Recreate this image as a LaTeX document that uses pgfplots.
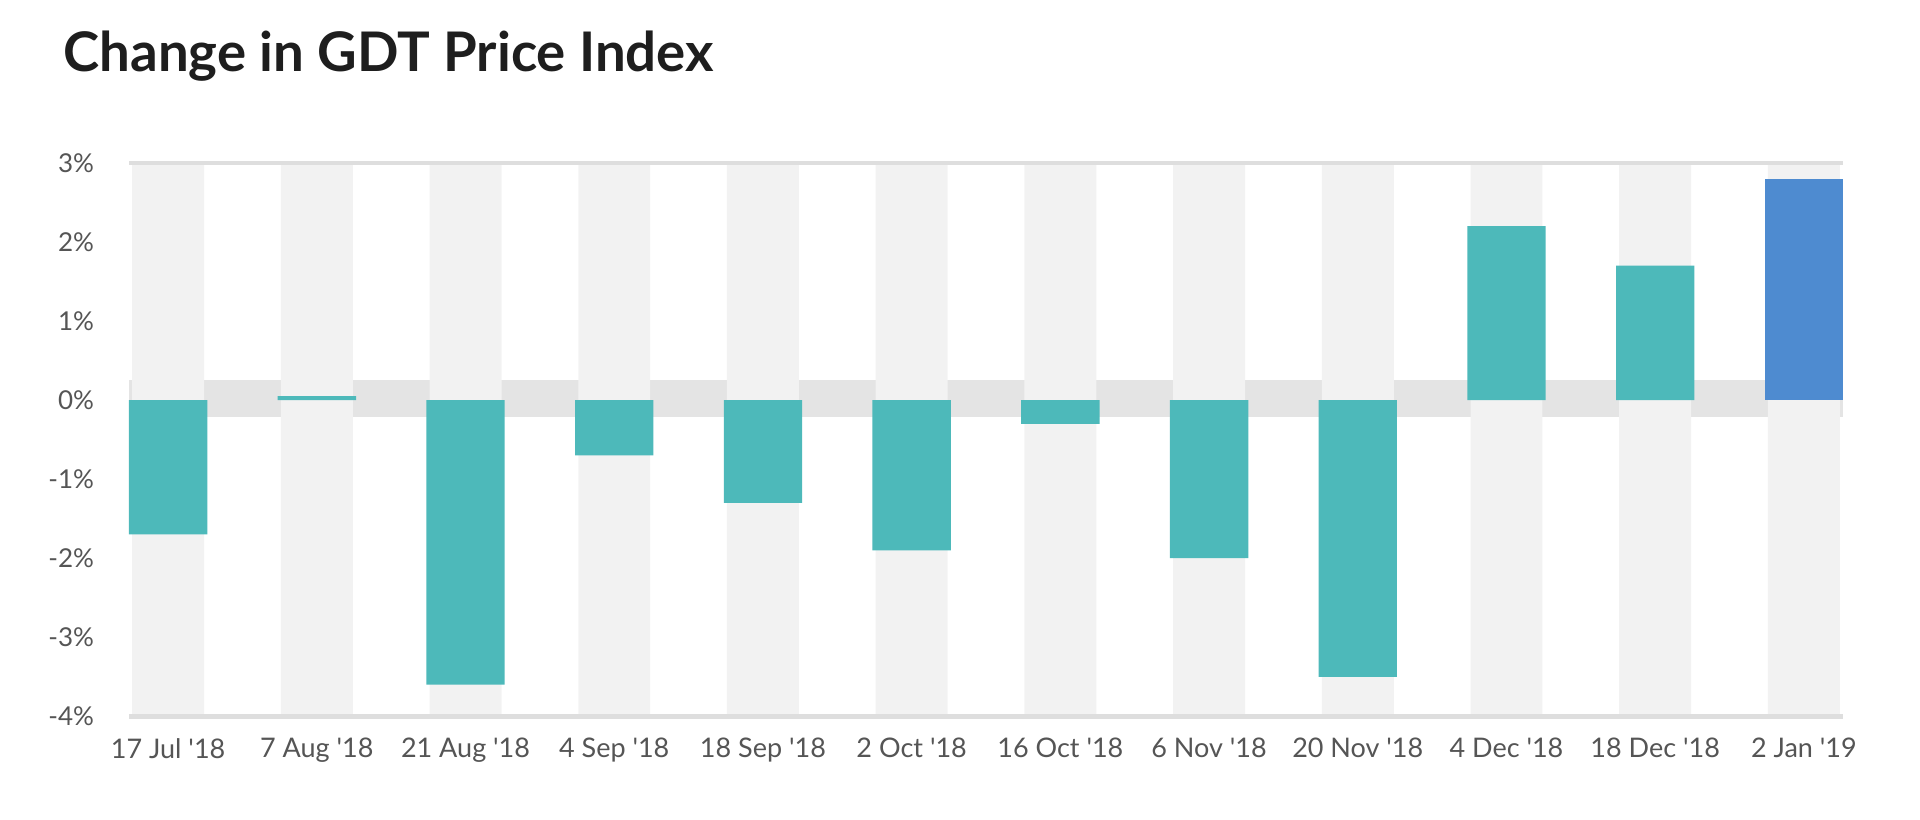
\documentclass[border=0pt]{standalone}
\usepackage{fontspec}
\setmainfont{Lato}
\usepackage{pgfplots}
\pgfplotsset{compat=1.18}
\definecolor{tealbar}{RGB}{77,185,186}
\definecolor{bluebar}{RGB}{78,139,208}
\definecolor{stripe}{RGB}{242,242,242}
\definecolor{band}{RGB}{228,228,228}
\definecolor{axisline}{RGB}{222,222,222}
\definecolor{lbl}{RGB}{85,85,85}
\definecolor{ttl}{RGB}{30,30,30}
\begin{document}
\begin{tikzpicture}
\useasboundingbox (-64.5pt,-51.35pt) rectangle (895.5pt,358.15pt);
\begin{axis}[
  at={(0,0)}, anchor=south west,
  width=857pt, height=276.7pt, scale only axis,
  xmin=-0.263, xmax=11.263, ymin=-4, ymax=3,
  axis line style={draw=none},
  tick style={draw=none},
  xtick={0,1,2,3,4,5,6,7,8,9,10,11},
  xticklabels={17 Jul \textquotesingle18, 7 Aug \textquotesingle18, 21 Aug \textquotesingle18, 4 Sep \textquotesingle18, 18 Sep \textquotesingle18, 2 Oct \textquotesingle18, 16 Oct \textquotesingle18, 6 Nov \textquotesingle18, 20 Nov \textquotesingle18, 4 Dec \textquotesingle18, 18 Dec \textquotesingle18, 2 Jan \textquotesingle19},
  ytick={-4,-3,-2,-1,0,1,2,3},
  yticklabels={-4\%,-3\%,-2\%,-1\%,0\%,1\%,2\%,3\%},
  yticklabel style={font=\fontsize{13}{15}\selectfont, text=lbl, xshift=-14pt},
  xticklabel style={font=\fontsize{13.5}{16}\selectfont, text=lbl, yshift=-7.5pt},
  clip=false,
]
% zero band
\addplot[fill=band, draw=none] coordinates {(-0.263,-0.22) (11.263,-0.22) (11.263,0.26) (-0.263,0.26)} -- cycle;
% stripes
\addplot[ybar, bar width=0.484, fill=stripe, draw=none] coordinates {(0,3)(1,3)(2,3)(3,3)(4,3)(5,3)(6,3)(7,3)(8,3)(9,3)(10,3)(11,3)};
\addplot[ybar, bar width=0.484, fill=stripe, draw=none] coordinates {(0,-4)(1,-4)(2,-4)(3,-4)(4,-4)(5,-4)(6,-4)(7,-4)(8,-4)(9,-4)(10,-4)(11,-4)};
% frame lines
\addplot[axisline, line width=2pt] coordinates {(-0.263,3) (11.263,3)};
\addplot[axisline, line width=2.2pt] coordinates {(-0.263,-4) (11.263,-4)};
% data
\addplot[ybar, bar width=0.527, fill=tealbar, draw=none] coordinates {
 (0,-1.7) (1,0.05) (2,-3.6) (3,-0.7) (4,-1.3) (5,-1.9) (6,-0.3) (7,-2.0) (8,-3.5) (9,2.2) (10,1.7)};
\addplot[ybar, bar width=0.527, fill=bluebar, draw=none] coordinates {(11,2.8)};
\end{axis}
\node[anchor=base west, inner sep=0, text=ttl, font=\fontsize{27.3}{31}\bfseries\selectfont] at (-33pt,322.15pt) {Change in GDT Price Index};
\end{tikzpicture}
\end{document}
